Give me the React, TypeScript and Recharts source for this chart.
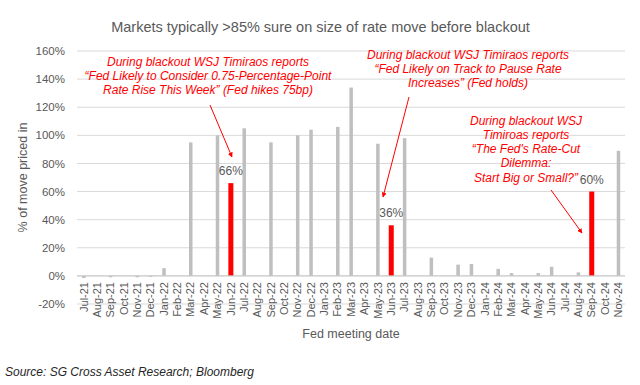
import {
  Bar,
  BarChart,
  CartesianGrid,
  LabelList,
  ReferenceLine,
  XAxis,
  YAxis,
} from "recharts";

const months = [
  "Jul-21", "Aug-21", "Sep-21", "Oct-21", "Nov-21", "Dec-21",
  "Jan-22", "Feb-22", "Mar-22", "Apr-22", "May-22", "Jun-22",
  "Jul-22", "Aug-22", "Sep-22", "Oct-22", "Nov-22", "Dec-22",
  "Jan-23", "Feb-23", "Mar-23", "Apr-23", "May-23", "Jun-23",
  "Jul-23", "Aug-23", "Sep-23", "Oct-23", "Nov-23", "Dec-23",
  "Jan-24", "Feb-24", "Mar-24", "Apr-24", "May-24", "Jun-24",
  "Jul-24", "Aug-24", "Sep-24", "Oct-24", "Nov-24",
];

// % of move priced in before the blackout period (0 = no meeting that month)
const pricedIn = [
  -1.5, 0, -1, 0, -1, -0.7,
  5.5, 0, 95, 0, 100, 66,
  105, 0, 95, 0, 100, 104,
  0, 106, 134, 0, 94, 36,
  98, 0, 13, 0, 8, 8.5,
  0, 5, 2, 0, 2, 6.5,
  0, 2.5, 60, 0, 89,
];

const highlighted = ["Jun-22", "Jun-23", "Sep-24"];
const yTicks = [-20, 0, 20, 40, 60, 80, 100, 120, 140, 160];

const data = months.map((month, i) => ({
  month,
  value: pricedIn[i],
  red: highlighted.includes(month),
}));

const FONT = "'Liberation Sans', Arial, sans-serif";
const GRAY_TEXT = "#595959";
const RED = "#ff0000";

function MonthTick({ x, y, payload }: any) {
  const ty = y - 22;
  return (
    <text
      x={x}
      y={ty}
      dy="0.35em"
      transform={`rotate(-90 ${x} ${ty})`}
      textAnchor="end"
      fontSize={11}
      fill={GRAY_TEXT}
      fontFamily={FONT}
    >
      {payload.value}
    </text>
  );
}

function PricedBar(props: any) {
  const { x, y, width, height, payload } = props;
  if (!height) return null;
  const w = payload.red ? 5 : 3.5;
  const cx = x + width / 2;
  const top = height < 0 ? y + height : y;
  return (
    <rect
      x={cx - w / 2}
      y={top}
      width={w}
      height={Math.abs(height)}
      fill={payload.red ? RED : "#bfbfbf"}
    />
  );
}

function RedLabel(props: any) {
  const { x, y, width, value, index } = props;
  if (!data[index].red) return null;
  return (
    <text
      x={x + width / 2}
      y={y - 8}
      textAnchor="middle"
      fontSize={12}
      fill={GRAY_TEXT}
      fontFamily={FONT}
    >
      {`${value}%`}
    </text>
  );
}

const notes = [
  {
    cx: 208,
    y: 65.5,
    lines: [
      "During blackout WSJ Timiraos reports",
      "\u201cFed Likely to Consider 0.75-Percentage-Point",
      "Rate Rise This Week\u201d (Fed hikes 75bp)",
    ],
    arrow: [210, 105, 232, 157],
  },
  {
    cx: 468,
    y: 58.5,
    lines: [
      "During blackout WSJ Timiraos reports",
      "\u201cFed Likely on Track to Pause Rate",
      "Increases\u201d (Fed holds)",
    ],
    arrow: [409, 97, 383, 197],
  },
  {
    cx: 526,
    y: 124.5,
    lines: [
      "During blackout WSJ",
      "Timiroas reports",
      "\u201cThe Fed's Rate-Cut",
      "Dilemma:",
      "Start Big or Small?\u201d",
    ],
    arrow: [551, 190, 582, 233],
  },
];

export default function App() {
  return (
    <div
      style={{
        position: "absolute",
        left: 0,
        top: 0,
        width: 640,
        height: 385,
        background: "#ffffff",
        fontFamily: FONT,
      }}
    >
      <BarChart
        width={640}
        height={385}
        data={data}
        margin={{ top: 51, right: 15, bottom: 41, left: 0 }}
      >
        <CartesianGrid vertical={false} stroke="#d9d9d9" />
        <XAxis
          dataKey="month"
          interval={0}
          height={40}
          tickSize={0}
          tickMargin={0}
          axisLine={false}
          tickLine={false}
          tick={<MonthTick />}
          label={{
            value: "Fed meeting date",
            position: "insideBottom",
            offset: 6,
            fill: GRAY_TEXT,
            fontSize: 12.5,
            fontFamily: FONT,
          }}
        />
        <YAxis
          width={77}
          domain={[-20, 160]}
          ticks={yTicks}
          tickFormatter={(v) => `${v}%`}
          axisLine={false}
          tickLine={false}
          tickSize={0}
          tickMargin={12}
          tick={{ fill: GRAY_TEXT, fontSize: 11.5, fontFamily: FONT }}
          label={{
            value: "% of move priced in",
            angle: -90,
            position: "insideLeft",
            offset: 23,
            fill: GRAY_TEXT,
            fontSize: 12.5,
            fontFamily: FONT,
            style: { textAnchor: "middle" },
          }}
        />
        <ReferenceLine y={0} stroke="#c8c8c8" />
        <Bar dataKey="value" shape={<PricedBar />} isAnimationActive={false}>
          <LabelList dataKey="value" content={<RedLabel />} />
        </Bar>
      </BarChart>

      <svg
        width={640}
        height={385}
        style={{ position: "absolute", left: 0, top: 0, pointerEvents: "none" }}
      >
        <defs>
          <marker
            id="head"
            viewBox="0 0 10 10"
            refX="9"
            refY="5"
            markerWidth="5"
            markerHeight="5"
            orient="auto"
          >
            <path d="M0,0 L10,5 L0,10 z" fill={RED} />
          </marker>
        </defs>
        <text
          x={320.5}
          y={32}
          textAnchor="middle"
          fontSize={14.5}
          fill={GRAY_TEXT}
          fontFamily={FONT}
        >
          Markets typically &gt;85% sure on size of rate move before blackout
        </text>
        {notes.map((n, i) => (
          <g key={i}>
            <text
              textAnchor="middle"
              fontSize={12}
              fontStyle="italic"
              fill={RED}
              fontFamily={FONT}
            >
              {n.lines.map((line, j) => (
                <tspan key={j} x={n.cx} y={n.y + j * 14.3}>
                  {line}
                </tspan>
              ))}
            </text>
            <line
              x1={n.arrow[0]}
              y1={n.arrow[1]}
              x2={n.arrow[2]}
              y2={n.arrow[3]}
              stroke={RED}
              strokeWidth={1}
              markerEnd="url(#head)"
            />
          </g>
        ))}
        <text
          x={5}
          y={376}
          fontSize={12}
          fontStyle="italic"
          fill="#262626"
          fontFamily={FONT}
        >
          Source: SG Cross Asset Research; Bloomberg
        </text>
      </svg>
    </div>
  );
}
